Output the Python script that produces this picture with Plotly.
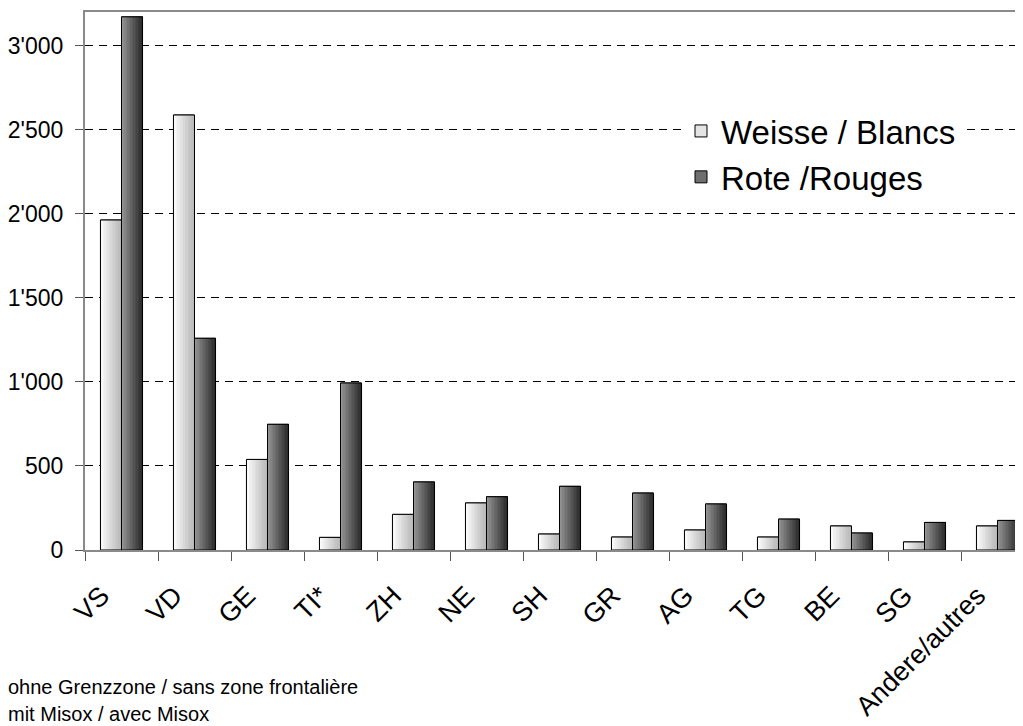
import plotly.graph_objects as go

categories = ["VS", "VD", "GE", "TI*", "ZH", "NE", "SH", "GR", "AG", "TG", "BE", "SG", "Andere/autres"]
weisse = [1964, 2589, 539, 75, 212, 280, 95, 77, 119, 77, 143, 48, 143]
rote = [3173, 1260, 748, 994, 405, 317, 379, 339, 274, 184, 101, 164, 176]
series_names = ["Weisse / Blancs", "Rote /Rouges"]
y_tickvals = [0, 500, 1000, 1500, 2000, 2500, 3000]
y_ticktext = ["0", "500", "1'000", "1'500", "2'000", "2'500", "3'000"]
notes = ["ohne Grenzzone / sans zone frontalière", "mit Misox / avec Misox"]

# The page body has an 8px margin, so the figure is drawn 8px in from the top-left.
OFF = 8
W, H = 1023 - OFF, 726 - OFF
L = 85 - OFF           # plot left edge at screen x=85
T = 12 - OFF           # plot top at screen y=12
PLOT_BOTTOM = 550 - OFF
B = H - PLOT_BOTTOM
FONT = "Liberation Sans, Arial, sans-serif"

BAR_W = 0.288
N_SLICES = 14


def lerp(c1, c2, t):
    return "rgb(%d,%d,%d)" % tuple(round(a + (b - a) * t) for a, b in zip(c1, c2))


series = [
    (series_names[0], weisse, -BAR_W, (253, 253, 253), (185, 185, 185), "#e4e4e4", "w"),
    (series_names[1], rote, 0.0, (148, 148, 148), (44, 44, 44), "#6e6e6e", "r"),
]

fig = go.Figure()
for name, vals, off, c_left, c_right, mid, grp in series:
    fig.add_trace(go.Bar(
        x=categories, y=vals, name=name, offset=off, width=BAR_W,
        marker=dict(color=mid, line=dict(color="#000", width=1)),
        legendgroup=grp, showlegend=True, hoverinfo="skip",
    ))
    sw = BAR_W / N_SLICES
    for i in range(N_SLICES):
        fig.add_trace(go.Bar(
            x=categories, y=vals, offset=off + i * sw, width=sw * 1.08,
            marker=dict(color=lerp(c_left, c_right, i / (N_SLICES - 1)), line=dict(width=0)),
            legendgroup=grp, showlegend=False, hoverinfo="skip",
        ))

for name, vals, off, c_left, c_right, mid, grp in series:
    fig.add_trace(go.Bar(
        x=categories, y=vals, offset=off, width=BAR_W,
        marker=dict(color="rgba(0,0,0,0)", line=dict(color="#000", width=1)),
        legendgroup=grp, showlegend=False, hoverinfo="skip",
    ))

plot_w = W - L
plot_h = H - T - B
cat_px = 73.0
x_max = -0.5 + plot_w / cat_px


def px_x(sx):
    return (sx - OFF - L) / plot_w


def px_y(sy):
    return (PLOT_BOTTOM - (sy - OFF)) / plot_h


fig.update_layout(
    width=W, height=H,
    margin=dict(l=L, r=0, t=T, b=B, pad=0, autoexpand=False),
    paper_bgcolor="white", plot_bgcolor="white",
    barmode="overlay",
    font=dict(family=FONT, color="black"),
    showlegend=True,
    legend=dict(
        x=px_x(681), y=px_y(103),
        xanchor="left", yanchor="top",
        bgcolor="white", borderwidth=0,
        font=dict(size=33, family=FONT, color="black"),
        traceorder="grouped", tracegroupgap=0,
        itemclick=False,
    ),
    xaxis=dict(
        type="category", range=[-0.5, x_max], automargin=False,
        showline=True, linecolor="#8a8a8a", linewidth=2, mirror=True,
        ticks="outside", tickson="boundaries", ticklen=9, tickcolor="#555", tickwidth=1,
        tickangle=-45, tickfont=dict(size=27, family=FONT, color="black"),
        ticklabelshift=-20, ticklabelstandoff=17,
        showgrid=False, zeroline=False,
    ),
    yaxis=dict(
        range=[0, 3202], automargin=False,
        tickvals=y_tickvals, ticktext=y_ticktext,
        showline=True, linecolor="#8a8a8a", linewidth=2, mirror=False,
        ticks="outside", ticklen=8, tickcolor="#555", tickwidth=1,
        ticklabelstandoff=7,
        tickfont=dict(size=23, family=FONT, color="black"),
        showgrid=True, gridcolor="#000", gridwidth=1, griddash="8px,6px",
        zeroline=False,
    ),
)

note_pos = [(6, 687), (6, 714)]
for txt, (sx, sy) in zip(notes, note_pos):
    fig.add_annotation(
        text=txt, xref="paper", yref="paper",
        x=px_x(sx), y=px_y(sy),
        xanchor="left", yanchor="middle", showarrow=False,
        font=dict(size=20, family=FONT, color="black"),
    )

fig.write_html("out.html")
